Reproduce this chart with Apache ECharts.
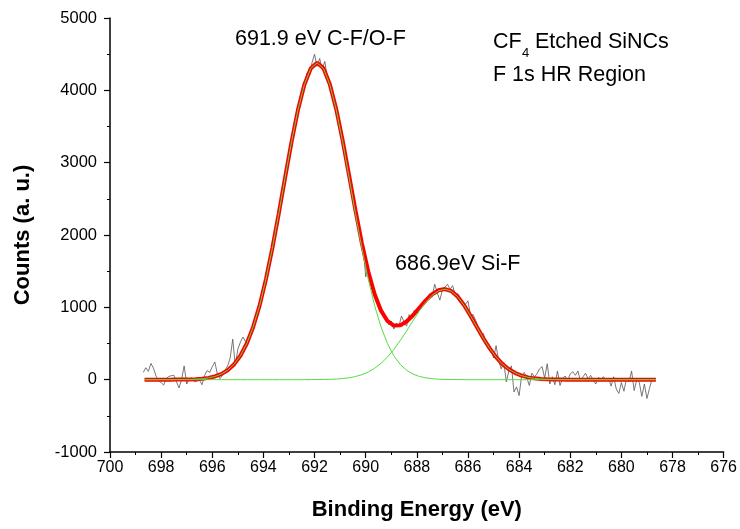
<!DOCTYPE html>
<html>
<head>
<meta charset="utf-8">
<script src="https://cdn.jsdelivr.net/npm/echarts/dist/echarts.min.js"></script>
<style>
body { margin: 0; background: #fff; }
#xps_f1s { width: 740px; height: 529px; }
</style>
</head>
<body>
<div id="xps_f1s"></div>
<script>
// raw counts, 0.1 eV steps from 698.7 down to 678.7
var rawStart = 698.7;
var rawStep = 0.1;
var rawCounts = [
    100, 165, 115, 225, 160, 50, -15, -40,                     // 698.7 - 698.0
    -75, 15, 45, 55, 60, -30, -115, 5, 190, -60,               // 697.9 - 697.0
    10, 25, -30, -20, -10, -70, 60, 125, 100, 180,             // 696.9 - 696.0
    245, 75, 15, 60, 130, 190, 300, 560, 200, 420,             // 695.9 - 695.0
    520, 590, 530, 560, 610, 760, 820, 990, 1070, 1260,        // 694.9 - 694.0
    1370, 1580, 1700, 1950, 2080, 2330, 2470, 2720, 2880, 3120,
    3200, 3460, 3700, 3760, 4010, 4050, 4240, 4200, 4380, 4500,
    4330, 4440, 4290, 4400, 4170, 4020, 3990, 3760, 3690, 3440,
    3330, 3080, 2960, 2680, 2560, 2290, 2200, 1930, 1850, 1420,
    1560, 1300, 1270, 1080, 1060, 920, 900, 860, 760, 810,
    700, 780, 740, 880, 800, 740, 900, 850, 960, 920,
    1010, 1060, 1050, 1140, 1190, 1150, 1320, 1200, 1100, 1240,
    1280, 1320, 1250, 1300, 1180, 1190, 1130, 1070, 1040, 1090,
    890, 900, 820, 720, 610, 640, 520, 450, 440, 300,
    470, 260, 150, 240, -30, 120, 190, -170, -100, -220,
    60, 100, 30, -80, 90, 40, 80, 150, 180, 20,
    220, -60, 40, -70, 120, -80, 20, 50, -10, 80,
    110, 60, 120, -20, 40, 90, 10, 60, -10, -60,
    30, 10, 40, -10, 20, -90, 40, -130, -190, -40,
    -160, 20, -30, 120, -150, 0, -40, -230, -60, -260,
    -120, 10, -20                                              // 678.9 - 678.7
];

// fitted curves, 0.25 eV steps from 698.65 down to 678.65
var fitStart = 698.65;
var fitStep = 0.25;
var peakCF = [
    0, 0, 0, 0, 0, 1, 2, 3, 7, 13,
    25, 44, 77, 130, 211, 331, 500, 729, 1024, 1390,
    1819, 2297, 2797, 3288, 3727, 4077, 4302, 4380, 4302, 4077,
    3727, 3288, 2797, 2297, 1819, 1390, 1024, 729, 500, 331,
    211, 130, 77, 44, 25, 13, 7, 3, 2, 1,
    0, 0, 0, 0, 0, 0, 0, 0, 0, 0,
    0, 0, 0, 0, 0, 0, 0, 0, 0, 0,
    0, 0, 0, 0, 0, 0, 0, 0, 0, 0,
    0
];
var peakSiF = [
    0, 0, 0, 0, 0, 0, 0, 0, 0, 0,
    0, 0, 0, 0, 0, 0, 0, 0, 0, 0,
    0, 0, 0, 0, 0, 0, 1, 1, 3, 5,
    9, 16, 26, 43, 69, 106, 157, 225, 312, 417,
    540, 674, 814, 950, 1071, 1167, 1229, 1250, 1223, 1146,
    1028, 883, 727, 572, 432, 312, 215, 143, 91, 55,
    32, 18, 9, 5, 2, 1, 0, 0, 0, 0,
    0, 0, 0, 0, 0, 0, 0, 0, 0, 0,
    0
];
var envelope = [
    0, 0, 0, 0, 0, 1, 2, 3, 7, 13,
    25, 44, 77, 130, 211, 331, 500, 729, 1024, 1390,
    1819, 2297, 2797, 3288, 3727, 4077, 4303, 4381, 4305, 4082,
    3736, 3304, 2823, 2340, 1888, 1496, 1181, 954, 812, 748,
    751, 804, 891, 994, 1096, 1180, 1236, 1253, 1225, 1147,
    1028, 883, 727, 572, 432, 312, 215, 143, 91, 55,
    32, 18, 9, 5, 2, 1, 0, 0, 0, 0,
    0, 0, 0, 0, 0, 0, 0, 0, 0, 0,
    0
];

var xTicks = { min: 676, max: 700, interval: 2 };
var yTicks = { min: -1000, max: 5000, interval: 1000 };

function pairs(start, step, values) {
    var out = [];
    for (var i = 0; i < values.length; i++) {
        out.push([+(start - step * i).toFixed(2), values[i]]);
    }
    return out;
}

var myChart = echarts.init(document.getElementById('xps_f1s'));
var axisStyle = { onZero: false, lineStyle: { color: '#000', width: 1.5 } };
var option = {
    animation: false,
    backgroundColor: '#fff',
    textStyle: { fontFamily: 'Liberation Sans, Arial, sans-serif', color: '#000' },
    grid: { left: 110, right: 14, top: 18, bottom: 77 },
    xAxis: {
        type: 'value',
        inverse: true,
        min: xTicks.min,
        max: xTicks.max,
        interval: xTicks.interval,
        name: 'Binding Energy (eV)',
        nameLocation: 'middle',
        nameGap: 47,
        nameTextStyle: { fontSize: 22, fontWeight: 'bold', color: '#000' },
        axisLine: axisStyle,
        axisTick: { inside: false, length: 6, lineStyle: { color: '#000', width: 1.2 } },
        minorTick: { show: true, splitNumber: 2, length: 3, lineStyle: { color: '#000', width: 1 } },
        axisLabel: { fontSize: 16, color: '#000', margin: 8 },
        splitLine: { show: false }
    },
    yAxis: {
        type: 'value',
        min: yTicks.min,
        max: yTicks.max,
        interval: yTicks.interval,
        name: 'Counts (a. u.)',
        nameLocation: 'middle',
        nameGap: 76,
        nameTextStyle: { fontSize: 22, fontWeight: 'bold', color: '#000' },
        axisLine: axisStyle,
        axisTick: { inside: false, length: 6, lineStyle: { color: '#000', width: 1.2 } },
        minorTick: { show: true, splitNumber: 2, length: 3, lineStyle: { color: '#000', width: 1 } },
        axisLabel: {
            fontSize: 16.5, color: '#000', margin: 13,
            formatter: function (v) { return String(v); }
        },
        splitLine: { show: false }
    },
    series: [
        {
            name: 'raw',
            type: 'line',
            showSymbol: false,
            z: 1,
            lineStyle: { color: '#555', width: 0.8 },
            data: pairs(rawStart, rawStep, rawCounts)
        },
        {
            name: 'envelope',
            type: 'line',
            showSymbol: false,
            z: 2,
            lineStyle: { color: '#ff0000', width: 4 },
            data: pairs(fitStart, fitStep, envelope)
        },
        {
            name: 'C-F/O-F',
            type: 'line',
            showSymbol: false,
            z: 3,
            lineStyle: { color: '#55dd44', width: 1 },
            data: pairs(fitStart, fitStep, peakCF)
        },
        {
            name: 'Si-F',
            type: 'line',
            showSymbol: false,
            z: 3,
            lineStyle: { color: '#55dd44', width: 1 },
            data: pairs(fitStart, fitStep, peakSiF)
        }
    ],
    graphic: [
        { type: 'text', left: 235, top: 28, style: { text: '691.9 eV C-F/O-F', font: '21.5px Liberation Sans', fill: '#000' } },
        { type: 'text', left: 395, top: 253, style: { text: '686.9eV Si-F', font: '21.5px Liberation Sans', fill: '#000' } },
        { type: 'text', left: 493, top: 31, style: { text: 'CF', font: '21.5px Liberation Sans', fill: '#000' } },
        { type: 'text', left: 522, top: 47, style: { text: '4', font: '13px Liberation Sans', fill: '#000' } },
        { type: 'text', left: 535, top: 31, style: { text: 'Etched SiNCs', font: '21.5px Liberation Sans', fill: '#000' } },
        { type: 'text', left: 493, top: 64, style: { text: 'F 1s HR Region', font: '21.5px Liberation Sans', fill: '#000' } }
    ]
};
myChart.setOption(option);
</script>
</body>
</html>
